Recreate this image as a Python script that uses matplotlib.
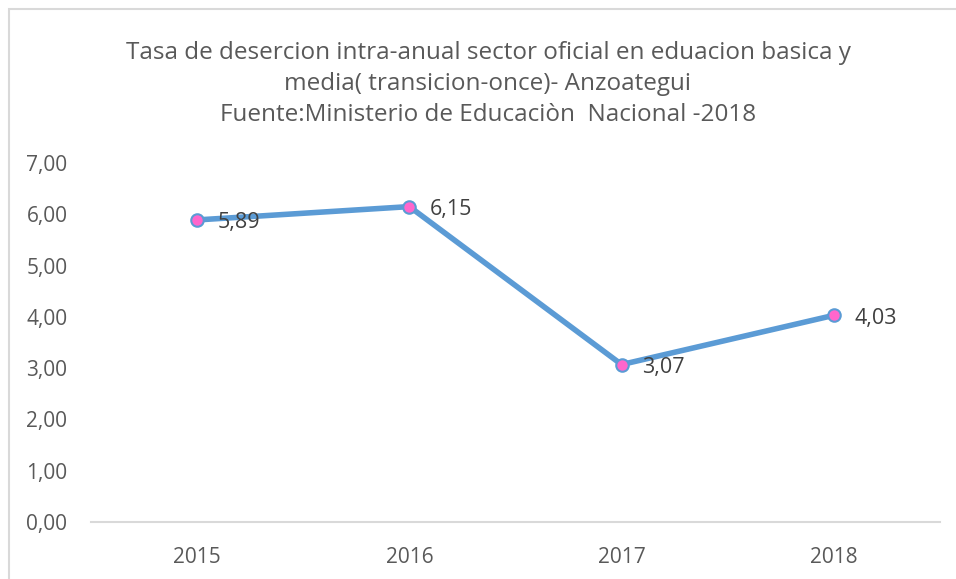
import matplotlib.pyplot as plt
from matplotlib.patches import Rectangle
from matplotlib.ticker import FuncFormatter

plt.rcParams['font.family'] = ['Open Sans', 'DejaVu Sans']

years = ['2015', '2016', '2017', '2018']
tasa = [5.89, 6.15, 3.07, 4.03]
title = ("Tasa de desercion intra-anual sector oficial en eduacion basica y\n"
         "media( transicion-once)- Anzoategui\n"
         "Fuente:Ministerio de Educaciòn  Nacional -2018")

grey = '#595959'
W, H = 956, 579
fig = plt.figure(figsize=(W / 100, H / 100), dpi=100)

# chart border (right/bottom fall outside the picture)
fig.patches.append(Rectangle((8.5 / W, -0.1), 1.2, 1.1 - 9.5 / H, transform=fig.transFigure,
                             fill=False, edgecolor='#d9d9d9', linewidth=1.5))

ax = fig.add_axes([91 / W, 1 - 522 / H, (940 - 91) / W, (522 - 163) / H])
x = range(len(years))
ax.plot(x, tasa, color='#5b9bd5', linewidth=4, marker='o', markersize=9,
        markerfacecolor='#ff66cc', markeredgecolor='#5b9bd5', markeredgewidth=1.5,
        solid_capstyle='round', zorder=3)

for xi, v in zip(x, tasa):
    ax.annotate(f"{v:.2f}".replace('.', ','), (xi, v), xytext=(15, -2),
                textcoords='offset points', ha='left', va='center',
                fontsize=15.5, color='#404040')

ax.set_xlim(-0.5, len(years) - 0.5)
ax.set_ylim(0, 7)
ax.set_xticks(list(x))
ax.set_xticklabels(years)
ax.set_yticks(range(0, 8))
ax.yaxis.set_major_formatter(FuncFormatter(lambda v, p: f"{v:.2f}".replace('.', ',')))
ax.tick_params(length=0, labelsize=15, colors=grey)
ax.tick_params(axis='y', pad=17)
ax.tick_params(axis='x', pad=18)
for s in ['top', 'right', 'left']:
    ax.spines[s].set_visible(False)
ax.spines['bottom'].set_color('#d9d9d9')
ax.spines['bottom'].set_linewidth(1.5)

fig.text(488 / W, 1 - 84 / H, title, ha='center', va='center', fontsize=17.5,
         color=grey, linespacing=1.38)

fig.savefig('out.png', dpi=100)
